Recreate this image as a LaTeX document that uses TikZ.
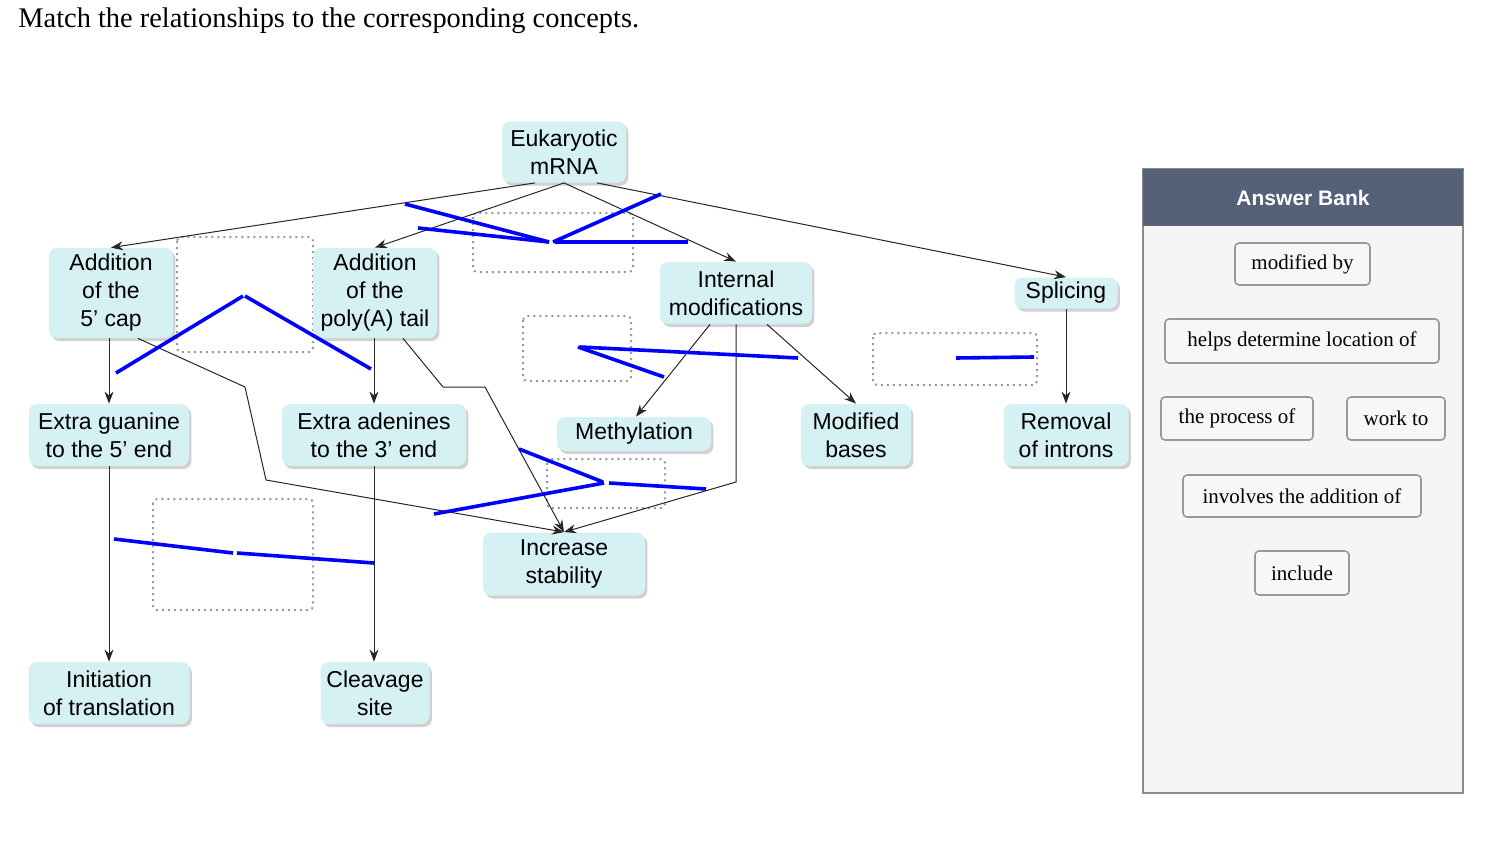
\documentclass[tikz,border=0pt]{standalone}
\usepackage{fontspec}
\setmainfont{Liberation Serif}
\setsansfont{Liberation Sans}
\usetikzlibrary{shadows,arrows.meta}
\definecolor{nodefill}{HTML}{D5F1F3}
\definecolor{bankhead}{HTML}{546178}
\begin{document}
\begin{tikzpicture}[x=0.5pt,y=-0.5pt,
  concept/.style={draw=none,fill=nodefill,rounded corners=4pt,font=\sffamily\fontsize{11.5}{14}\selectfont,align=center,inner sep=0pt,
    drop shadow={shadow xshift=1.2pt,shadow yshift=-1.5pt,fill=black!30,opacity=0.6}},
  link/.style={draw=black!85,line width=0.5pt,-{Stealth[length=6pt,width=4.5pt]}},
  slot/.style={draw=black!40,dotted,line width=1pt,rounded corners=2pt},
  blue/.style={draw=blue,line width=1.8pt},
  btn/.style={draw=black!40,fill=black!3,rounded corners=2pt,font=\fontsize{10.5}{12}\selectfont,inner sep=0pt,line width=0.8pt}]
\useasboundingbox (0,0) rectangle (1498,856);
\node[anchor=west,inner sep=0pt,font=\fontsize{14.2}{16}\selectfont] (title) at (18,21) {Match the relationships to the corresponding concepts.};
% slots
\draw[slot] (177,237) rectangle (313,352);
\draw[slot] (473,213) rectangle (633,272);
\draw[slot] (523,316) rectangle (631,381);
\draw[slot] (873,333) rectangle (1037,385);
\draw[slot] (547,459) rectangle (665,508);
\draw[slot] (153,499) rectangle (313,610);
% concepts
\node[concept,minimum width=62pt,minimum height=30.5pt] (mrna) at (564,152) {Eukaryotic\\mRNA};
\node[concept,minimum width=62pt,minimum height=45pt] (cap) at (111,293) {Addition\\of the\\5' cap};
\node[concept,minimum width=62pt,minimum height=45pt] (poly) at (375,293) {Addition\\of the\\poly(A) tail};
\node[concept,minimum width=76pt,minimum height=31pt] (intm) at (736,293) {Internal\\modifications};
\node[concept,minimum width=51.5pt,minimum height=15.5pt] (spl) at (1066,293) {Splicing};
\node[concept,minimum width=80pt,minimum height=31pt] (eg) at (109,435) {Extra guanine\\to the 5' end};
\node[concept,minimum width=92pt,minimum height=31pt] (ea) at (374,435) {Extra adenines\\to the 3' end};
\node[concept,minimum width=77pt,minimum height=17pt] (meth) at (634,434) {Methylation};
\node[concept,minimum width=55pt,minimum height=31pt] (mb) at (856,435) {Modified\\bases};
\node[concept,minimum width=62.5pt,minimum height=31pt] (rem) at (1066,435) {Removal\\of introns};
\node[concept,minimum width=81pt,minimum height=31.5pt] (inc) at (564,564) {Increase\\stability};
\node[concept,minimum width=80.5pt,minimum height=31pt] (init) at (109,693) {Initiation\\of translation};
\node[concept,minimum width=54.5pt,minimum height=31pt] (clv) at (375,693) {Cleavage\\site};
% connectors
\draw[link] ([xshift=-14.5pt]mrna.south) -- (cap.north);
\draw[link] (mrna.south) -- (poly.north);
\draw[link] (mrna.south) -- (intm.north);
\draw[link] ([xshift=16.5pt]mrna.south) -- (spl.north);
\draw[link] (cap.south -| eg.north) -- (eg.north);
\draw[link] ([xshift=13.5pt]cap.south) -- (245,387) -- (266,480) -- (inc.north);
\draw[link] (poly.south -| ea.north) -- (ea.north);
\draw[link] ([xshift=14pt]poly.south) -- (443,387) -- (485,387) -- (inc.north);
\draw[link] ([xshift=-13pt]intm.south) -- ([xshift=1pt]meth.north);
\draw[link] ([xshift=15.5pt]intm.south) -- (mb.north);
\draw[link] (intm.south) -- (736,482) -- (inc.north);
\draw[link] (spl.south) -- (rem.north);
\draw[link] (eg.south) -- (init.north);
\draw[link] (ea.south) -- (ea.south |- clv.north);
% blue marks
\draw[blue] (405,204) -- (549,242);
\draw[blue] (418,228) -- (549,242);
\draw[blue] (553,242) -- (661,194);
\draw[blue] (555,242) -- (688,242);
\draw[blue] (116,373) -- (243,296);
\draw[blue] (245,296) -- (371,369);
\draw[blue] (578,347) -- (664,377);
\draw[blue] (580,347) -- (798,358);
\draw[blue] (956,358) -- (1034,357);
\draw[blue] (519,449) -- (603,482);
\draw[blue] (434,514) -- (604,483);
\draw[blue] (609,483) -- (706,489);
\draw[blue] (114,539) -- (233,553);
\draw[blue] (237,553) -- (374,563);
% answer bank
\draw[draw=black!45,fill=black!4,line width=0.8pt] (1143,169) rectangle (1463,793);
\fill[bankhead] (1143,169) rectangle (1463,226);
\node[font=\sffamily\bfseries\fontsize{10.5}{12}\selectfont,text=white] (bank) at (1303,198) {Answer Bank};
\node[btn,minimum width=67.5pt,minimum height=21pt] (b1) at (1302.5,264) {modified by};
\node[btn,minimum width=137pt,minimum height=22pt] (b2) at (1302,341) {helps determine location of};
\node[btn,minimum width=76pt,minimum height=21.5pt] (b3) at (1237,418.5) {the process of};
\node[btn,minimum width=49pt,minimum height=21.5pt] (b4) at (1396,418.5) {work to};
\node[btn,minimum width=119pt,minimum height=21pt] (b5) at (1302,496) {involves the addition of};
\node[btn,minimum width=47pt,minimum height=22pt] (b6) at (1302,573) {include};
\end{tikzpicture}
\end{document}
